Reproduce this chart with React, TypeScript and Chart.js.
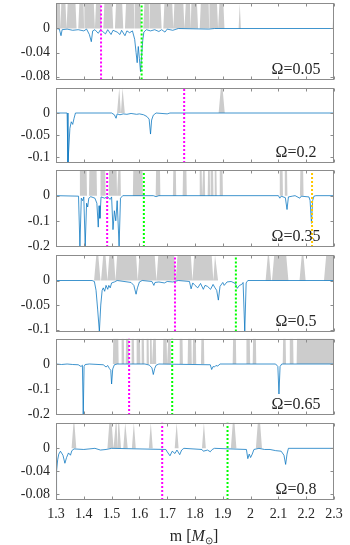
import React, { useEffect, useRef } from 'react';
import { Chart, registerables } from 'chart.js';

Chart.register(...registerables);

// ---------- data ----------
const X_TICKS = [1.3, 1.4, 1.5, 1.6, 1.7, 1.8, 1.9, 2.0, 2.1, 2.2, 2.3];
const X_TICK_LABELS = ['1.3', '1.4', '1.5', '1.6', '1.7', '1.8', '1.9', '2', '2.1', '2.2', '2.3'];
const OMEGA_LABELS = ['Ω=0.05', 'Ω=0.2', 'Ω=0.35', 'Ω=0.5', 'Ω=0.65', 'Ω=0.8'];

const Y_MIN = [-0.085, -0.114, -0.204, -0.104, -0.204, -0.09];
const Y_TICKS = [
  [0, -0.04, -0.08],
  [0, -0.05, -0.1],
  [0, -0.1, -0.2],
  [0, -0.05, -0.1],
  [0, -0.1, -0.2],
  [0, -0.04, -0.08],
];
const Y_TICK_LABELS = [
  ['0', '-0.04', '-0.08'],
  ['0', '-0.05', '-0.1'],
  ['0', '-0.1', '-0.2'],
  ['0', '-0.05', '-0.1'],
  ['0', '-0.1', '-0.2'],
  ['0', '-0.04', '-0.08'],
];

const MAGENTA_M = [1.462, 1.761, 1.484, 1.728, 1.563, 1.682];
const GREEN_M = [1.608, null, 1.616, 1.947, 1.718, 1.917];
const YELLOW_M = [null, null, 2.221, null, null, null];

const BLUE_1 = [
  [1.30, 0], [1.312, -0.001], [1.318, -0.012], [1.322, -0.002], [1.34, -0.001], [1.36, -0.003], [1.38, -0.002],
  [1.40, -0.004], [1.41, -0.001], [1.42, -0.01], [1.427, -0.022], [1.432, -0.004], [1.44, -0.002], [1.452, -0.008],
  [1.46, -0.002], [1.468, -0.005], [1.478, -0.009], [1.486, -0.002], [1.498, -0.01], [1.505, -0.003], [1.52, -0.006],
  [1.53, -0.01], [1.536, -0.003], [1.548, -0.012], [1.555, -0.004], [1.565, -0.007], [1.575, -0.004], [1.583, -0.018],
  [1.588, -0.04], [1.592, -0.057], [1.596, -0.03], [1.600, -0.05], [1.604, -0.072], [1.608, -0.045], [1.612, -0.02],
  [1.616, -0.006], [1.625, -0.002], [1.64, -0.004], [1.655, -0.002], [1.67, -0.005], [1.68, -0.002], [1.692, -0.006],
  [1.70, -0.001], [1.72, -0.003], [1.74, 0], [1.85, -0.001], [1.87, 0], [2.3, 0],
];
const BLUE_2 = [
  [1.30, 0], [1.34, 0], [1.343, -0.114], [1.350, -0.035], [1.355, -0.02], [1.36, -0.026], [1.365, -0.012], [1.37, 0],
  [1.50, 0], [1.51, -0.004], [1.516, -0.012], [1.52, -0.002], [1.53, -0.004], [1.542, -0.002], [1.555, -0.003],
  [1.57, -0.001], [1.59, -0.003], [1.60, -0.002], [1.615, -0.004], [1.627, -0.008], [1.635, -0.014], [1.64, -0.048],
  [1.644, -0.016], [1.65, -0.005], [1.66, 0], [1.70, -0.002], [1.71, 0], [2.3, 0],
];
const BLUE_3 = [
  [1.30, 0], [1.381, -0.002], [1.386, -0.2], [1.391, -0.01], [1.396, -0.02], [1.400, -0.005], [1.405, -0.2],
  [1.410, -0.03], [1.414, -0.045], [1.418, -0.01], [1.425, -0.004], [1.440, -0.01], [1.447, -0.03], [1.452, -0.125],
  [1.455, -0.04], [1.458, -0.09], [1.462, -0.005], [1.475, -0.01], [1.485, -0.004], [1.495, -0.015], [1.500, -0.005],
  [1.505, -0.135], [1.510, -0.06], [1.515, -0.1], [1.520, -0.02], [1.527, -0.2], [1.532, -0.01], [1.540, 0],
  [1.65, 0], [1.66, -0.004], [1.67, 0], [2.10, 0], [2.105, -0.01], [2.11, -0.002], [2.125, -0.008], [2.131, -0.055],
  [2.136, -0.005], [2.15, -0.002], [2.16, 0], [2.177, -0.01], [2.182, -0.002], [2.21, -0.005], [2.214, -0.02],
  [2.219, -0.11], [2.223, -0.02], [2.228, -0.002], [2.235, 0], [2.3, 0],
];
const BLUE_4 = [
  [1.30, 0], [1.43, 0], [1.438, -0.002], [1.444, -0.02], [1.45, -0.06], [1.456, -0.104], [1.461, -0.05],
  [1.466, -0.02], [1.47, -0.015], [1.475, -0.022], [1.48, -0.01], [1.486, -0.018], [1.49, -0.01], [1.495, -0.015],
  [1.50, -0.005], [1.51, -0.003], [1.52, 0], [1.57, -0.004], [1.58, -0.01], [1.588, -0.028], [1.593, -0.015],
  [1.60, -0.003], [1.61, 0], [1.645, -0.002], [1.652, -0.01], [1.656, -0.004], [1.67, -0.003], [1.69, -0.005],
  [1.70, -0.002], [1.72, -0.003], [1.74, 0], [1.78, -0.002], [1.786, -0.017], [1.792, -0.005], [1.80, -0.01],
  [1.81, -0.015], [1.82, -0.006], [1.83, -0.018], [1.836, -0.01], [1.845, -0.012], [1.856, -0.018], [1.865, -0.008],
  [1.872, -0.015], [1.878, -0.02], [1.884, -0.04], [1.89, -0.012], [1.90, -0.004], [1.905, -0.01], [1.915, -0.003],
  [1.93, -0.002], [1.945, -0.006], [1.952, -0.016], [1.96, -0.01], [1.968, -0.008], [1.973, -0.004], [1.979, -0.104],
  [1.984, -0.005], [1.99, 0], [2.3, 0],
];
const BLUE_5 = [
  [1.30, 0], [1.32, -0.002], [1.34, 0], [1.36, -0.002], [1.38, -0.003], [1.39, -0.01], [1.395, -0.005],
  [1.398, -0.204], [1.401, -0.01], [1.405, -0.002], [1.42, 0], [1.47, -0.003], [1.48, -0.012], [1.486, -0.006],
  [1.492, -0.018], [1.497, -0.025], [1.50, -0.08], [1.504, -0.02], [1.51, -0.003], [1.52, 0], [1.62, 0],
  [1.635, -0.004], [1.645, -0.015], [1.65, -0.042], [1.655, -0.018], [1.66, -0.005], [1.67, 0], [1.855, -0.003],
  [1.86, -0.022], [1.865, -0.01], [1.87, -0.012], [1.875, -0.006], [1.882, -0.008], [1.89, 0], [2.09, 0],
  [2.098, -0.01], [2.102, -0.12], [2.106, -0.01], [2.112, 0], [2.3, 0],
];
const BLUE_6 = [
  [1.30, -0.09], [1.302, -0.04], [1.306, -0.02], [1.31, -0.01], [1.316, -0.005], [1.325, -0.012], [1.332, -0.026],
  [1.338, -0.016], [1.345, -0.008], [1.352, -0.012], [1.357, -0.004], [1.365, -0.001], [1.40, -0.002], [1.44, 0],
  [1.46, -0.003], [1.48, -0.002], [1.50, 0], [1.695, -0.002], [1.70, -0.006], [1.71, -0.013], [1.718, -0.005],
  [1.728, -0.009], [1.735, -0.003], [1.745, -0.011], [1.752, -0.003], [1.76, 0], [1.825, -0.002], [1.83, -0.005],
  [1.845, -0.003], [1.855, -0.006], [1.862, -0.002], [1.87, 0], [1.985, -0.002], [1.99, -0.018], [1.995, -0.01],
  [2.0, -0.016], [2.006, -0.01], [2.012, -0.002], [2.03, 0], [2.05, -0.002], [2.07, -0.002], [2.09, -0.004],
  [2.11, -0.005], [2.12, -0.012], [2.126, -0.028], [2.131, -0.01], [2.136, 0], [2.3, 0],
];

// gray bands: [start, end] of the flat top of each band
const GRAY_1 = [
  [1.302, 1.314], [1.319, 1.334], [1.342, 1.37], [1.384, 1.399], [1.403, 1.436], [1.444, 1.46], [1.474, 1.502],
  [1.516, 1.538], [1.552, 1.58], [1.584, 1.603], [1.618, 1.634], [1.638, 1.676], [1.69, 1.718], [1.726, 1.758],
  [1.767, 1.782], [1.787, 1.807], [1.821, 1.849], [1.853, 1.879], [1.888, 1.902], [1.961, 1.961], [2.299, 2.3],
];
const GRAY_2 = [[1.5275, 1.5275], [1.5395, 1.5395], [1.893, 1.899]];
const GRAY_3 = [
  [1.386, 1.410], [1.420, 1.446], [1.460, 1.477], [1.491, 1.518], [1.524, 1.532], [1.578, 1.611], [1.660, 1.674],
  [1.722, 1.731], [1.757, 1.769], [1.817, 1.824], [1.829, 1.835], [1.847, 1.853], [1.857, 1.865], [1.871, 1.877],
  [1.889, 1.899], [2.105, 2.115], [2.123, 2.131], [2.179, 2.189],
];
const GRAY_4 = [
  [1.445, 1.452], [1.470, 1.478], [1.492, 1.508], [1.520, 1.588], [1.600, 1.655], [1.668, 1.725], [1.737, 1.785],
  [1.797, 1.860], [1.872, 1.875], [2.062, 2.066], [2.085, 2.128], [2.184, 2.19], [2.272, 2.3],
];
const GRAY_5 = [
  [1.506, 1.524], [1.536, 1.544], [1.552, 1.561], [1.572, 1.580], [1.590, 1.602], [1.608, 1.616], [1.626, 1.633],
  [1.638, 1.644], [1.650, 1.659], [1.686, 1.698], [1.704, 1.712], [1.745, 1.755], [1.775, 1.787], [1.793, 1.803],
  [1.823, 1.832], [1.937, 1.947], [1.985, 1.997], [2.009, 2.019], [2.117, 2.126], [2.141, 2.153], [2.167, 2.3],
];
const GRAY_6 = [
  [1.363, 1.366], [1.492, 1.5], [1.515, 1.518], [1.524, 1.527], [1.549, 1.551], [1.58, 1.58], [1.641, 1.641],
  [1.734, 1.734], [1.832, 1.832], [1.936, 1.942], [2.026, 2.034],
];

const BLUE = [BLUE_1, BLUE_2, BLUE_3, BLUE_4, BLUE_5, BLUE_6];
const GRAY = [GRAY_1, GRAY_2, GRAY_3, GRAY_4, GRAY_5, GRAY_6];
const GRAY_SLOPE = [0.004, 0.008, 0.0015, 0.008, 0.0015, 0.007];

// ---------- layout / style ----------
const W = 350;
const H = 545;
const OFFSET = 24; // canvases start above the page so tick labels never push the plot area
const CH = H + OFFSET;
const PANEL_TOP = [3, 88, 170, 255, 338.5, 422.5];
const PANEL_BOTTOM = [79.5, 163, 247, 331.5, 415, 500];
const X_AXIS_H = 30;
const FONT = "'Liberation Serif', 'Times New Roman', serif";
const TEXT_COLOR = '#262626';
const FRAME_COLOR = '#8c8c8c';

function grayPoints(intervals: number[][], ymax: number, d: number) {
  const pts: { x: number; y: number }[] = [{ x: 1.3, y: 0 }];
  intervals.forEach(([a, b], i) => {
    const prevB = i > 0 ? intervals[i - 1][1] : -Infinity;
    const nextA = i < intervals.length - 1 ? intervals[i + 1][0] : Infinity;
    const l = Math.max(1.3, a - d, (prevB + a) / 2);
    const r = Math.min(2.3, b + d, (b + nextA) / 2);
    pts.push({ x: l, y: 0 }, { x: a, y: ymax }, { x: b, y: ymax }, { x: r, y: 0 });
  });
  pts.push({ x: 2.3, y: 0 });
  return pts;
}

function vline(x: number | null, ymin: number, ymax: number, color: string) {
  if (x === null) return null;
  return {
    data: [{ x, y: ymin }, { x, y: ymax }],
    borderColor: color,
    borderWidth: 2,
    borderDash: [2, 2],
    pointRadius: 0,
    fill: false,
    order: 1,
  };
}

function Panel({ i }: { i: number }) {
  const ref = useRef<HTMLCanvasElement>(null);
  useEffect(() => {
    const canvas = ref.current;
    if (!canvas) return;
    const isLast = i === 5;
    const ymin = Y_MIN[i];
    const ymax = -ymin / 2;
    const datasets: any[] = [
      {
        data: grayPoints(GRAY[i], ymax, GRAY_SLOPE[i]),
        borderWidth: 0,
        backgroundColor: '#cccccc',
        fill: 'origin',
        pointRadius: 0,
        order: 3,
      },
      {
        data: BLUE[i].map(([x, y]) => ({ x, y })),
        borderColor: '#0072BD',
        borderWidth: 0.75,
        pointRadius: 0,
        fill: false,
        order: 2,
      },
    ];
    [vline(MAGENTA_M[i], ymin, ymax, '#ff00ff'), vline(GREEN_M[i], ymin, ymax, '#00ff00'), vline(YELLOW_M[i], ymin, ymax, '#ffc800')]
      .forEach((d) => { if (d) datasets.push(d); });

    const framePlugin = {
      id: 'frame' + i,
      afterDraw(chart: any) {
        const { ctx, chartArea: a, scales } = chart;
        const L = Math.round(a.left) + 0.5;
        const R = Math.round(a.right) - 0.5;
        const T = Math.round(a.top) + 0.5;
        const B = Math.round(a.bottom) - 0.5;
        ctx.save();
        ctx.strokeStyle = FRAME_COLOR;
        ctx.lineWidth = 1;
        ctx.strokeRect(L, T, R - L, B - T);
        ctx.beginPath();
        X_TICKS.forEach((v) => {
          const x = Math.round(scales.x.getPixelForValue(v)) + 0.5;
          ctx.moveTo(x, B); ctx.lineTo(x, B - 3);
          ctx.moveTo(x, T); ctx.lineTo(x, T + 3);
        });
        Y_TICKS[i].forEach((v) => {
          const y = Math.round(scales.y.getPixelForValue(v)) + 0.5;
          ctx.moveTo(L, y); ctx.lineTo(L + 3, y);
          ctx.moveTo(R, y); ctx.lineTo(R - 3, y);
        });
        ctx.stroke();
        ctx.restore();
      },
    };

    const chart = new Chart(canvas, {
      type: 'line',
      data: { datasets },
      options: {
        animation: false,
        responsive: false,
        events: [],
        layout: {
          padding: {
            top: PANEL_TOP[i] + OFFSET,
            bottom: isLast ? H - PANEL_BOTTOM[i] - X_AXIS_H : H - PANEL_BOTTOM[i],
            left: 0,
            right: 16,
          },
        },
        plugins: { legend: { display: false }, tooltip: { enabled: false } },
        scales: {
          x: {
            type: 'linear',
            min: 1.3,
            max: 2.3,
            display: isLast,
            afterBuildTicks: (s: any) => { s.ticks = X_TICKS.map((v) => ({ value: v })); },
            afterFit: (s: any) => { if (isLast) s.height = X_AXIS_H; },
            ticks: {
              autoSkip: false,
              maxRotation: 0,
              padding: 6,
              color: TEXT_COLOR,
              font: { family: FONT, size: 14 },
              callback: (_v: any, idx: number) => X_TICK_LABELS[idx],
            },
            grid: { display: false, drawTicks: false },
            border: { display: false },
          },
          y: {
            type: 'linear',
            min: ymin,
            max: ymax,
            afterBuildTicks: (s: any) => { s.ticks = Y_TICKS[i].map((v) => ({ value: v })); },
            afterFit: (s: any) => { s.width = 56; },
            ticks: {
              autoSkip: false,
              padding: 6,
              color: TEXT_COLOR,
              font: { family: FONT, size: 14 },
              callback: (_v: any, idx: number) => Y_TICK_LABELS[i][idx],
            },
            grid: { display: false, drawTicks: false },
            border: { display: false },
          },
        },
      } as any,
      plugins: [framePlugin],
    });
    return () => chart.destroy();
  }, [i]);
  return (
    <canvas
      ref={ref}
      width={W}
      height={CH}
      style={{ position: 'absolute', left: 0, top: -OFFSET, width: W, height: CH }}
    />
  );
}

export default function App() {
  return (
    <div style={{ position: 'absolute', left: 0, top: 0, width: W, height: H, background: '#fff', overflow: 'hidden' }}>
      {OMEGA_LABELS.map((_, i) => <Panel key={i} i={i} />)}
      {OMEGA_LABELS.map((t, i) => (
        <div
          key={'o' + i}
          style={{
            position: 'absolute',
            left: 256,
            width: 80,
            top: PANEL_BOTTOM[i] - 11 - 9,
            height: 18,
            lineHeight: '18px',
            textAlign: 'center',
            fontFamily: FONT,
            fontSize: 16,
            color: TEXT_COLOR,
            zIndex: 2,
          }}
        >
          {t}
        </div>
      ))}
      <div
        style={{
          position: 'absolute',
          left: 144,
          width: 100,
          top: 527,
          height: 18,
          lineHeight: '18px',
          textAlign: 'center',
          fontFamily: FONT,
          fontSize: 16,
          color: TEXT_COLOR,
          whiteSpace: 'nowrap',
        }}
      >
        m [<i>M</i><sub style={{ fontSize: 10, verticalAlign: -3 }}>⊙</sub>]
      </div>
    </div>
  );
}
